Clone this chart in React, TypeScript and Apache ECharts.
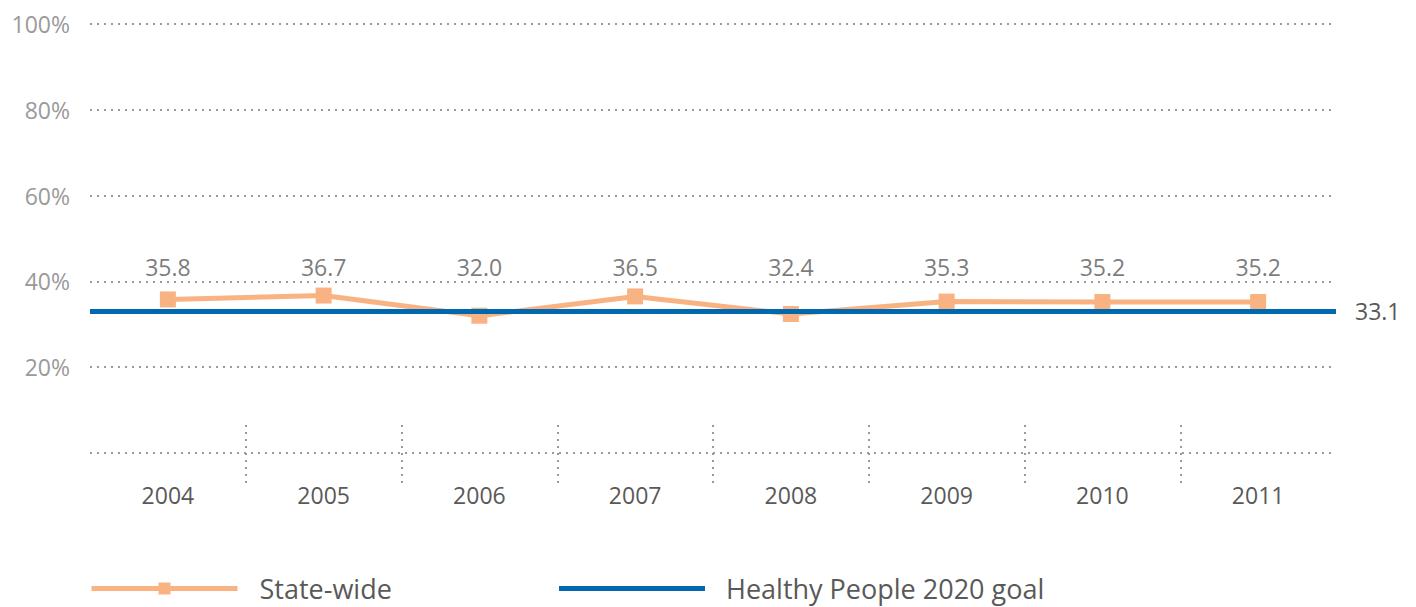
import React, { useEffect, useRef } from "react";
import * as echarts from "echarts";

// Years shown on the category axis
const years = ["2004", "2005", "2006", "2007", "2008", "2009", "2010", "2011"];
// State-wide percentage per year
const stateWide = [35.8, 36.7, 32.0, 36.5, 32.4, 35.3, 35.2, 35.2];
// Healthy People 2020 target
const goalValue = 33.1;
// Y tick values (0 has no label)
const yTicks = [0, 20, 40, 60, 80, 100];
// Height on the value scale where the value captions sit
const captionLevel = 43.3;
// Year boundaries where the dotted separators are drawn
const separators = [1, 2, 3, 4, 5, 6, 7];

const FONT = "'Open Sans', 'Noto Sans', sans-serif";
const PEACH = "#F9B383";
const BLUE = "#0068AE";
const DOTS = [2, 5];

export default function App() {
  const ref = useRef<HTMLDivElement>(null);

  useEffect(() => {
    if (!ref.current) return;
    const chart = echarts.init(ref.current, null, { renderer: "svg" });
    chart.setOption({
      animation: false,
      textStyle: { fontFamily: FONT },
      grid: { left: 82, right: 72, top: 16, bottom: 154, containLabel: false },
      legend: [
        {
          data: ["State-wide"],
          left: 76,
          top: 562,
          itemWidth: 146,
          itemHeight: 15,
          lineStyle: { width: 5 },
          textStyle: { fontSize: 27, color: "#595959", fontFamily: FONT, padding: [0, 0, 0, 17] },
        },
        {
          data: [{ name: "Healthy People 2020 goal", icon: "rect" }],
          left: 546,
          top: 562,
          itemWidth: 146,
          itemHeight: 5,
          textStyle: { fontSize: 27, color: "#595959", fontFamily: FONT, padding: [0, 0, 0, 16] },
        },
      ],
      xAxis: [
        {
          type: "category",
          data: years,
          boundaryGap: true,
          axisLine: { show: false },
          axisTick: { show: false },
          axisLabel: { margin: 30, fontSize: 23, color: "#595959", fontFamily: FONT },
        },
        {
          type: "value",
          min: 0,
          max: years.length,
          position: "bottom",
          offset: 30,
          axisLine: { show: false },
          axisLabel: { show: false },
          splitLine: { show: false },
          axisTick: {
            show: true,
            inside: true,
            length: 58,
            customValues: separators,
            lineStyle: { color: "#999", width: 2, type: DOTS },
          },
        },
      ],
      yAxis: {
        type: "value",
        min: yTicks[0],
        max: yTicks[yTicks.length - 1],
        interval: 20,
        axisLine: { show: false },
        axisTick: { show: false },
        axisLabel: {
          margin: 20,
          fontSize: 23,
          color: "#9A9A9A",
          fontFamily: FONT,
          padding: [0, 0, 8, 0],
          formatter: (v: number) => (v === 0 ? "" : v + "%"),
        },
        splitLine: { lineStyle: { color: "#9A9A9A", width: 2, type: DOTS } },
      },
      series: [
        {
          name: "Healthy People 2020 goal",
          type: "line",
          xAxisIndex: 0,
          data: [],
          symbol: "none",
          color: BLUE,
          lineStyle: { color: BLUE, width: 5 },
          itemStyle: { color: BLUE },
          z: 2,
          markLine: {
            silent: true,
            symbol: "none",
            lineStyle: { color: BLUE, width: 5, type: "solid" },
            label: {
              position: "end",
              distance: 19,
              fontSize: 23,
              color: "#595959",
              fontFamily: FONT,
              formatter: () => goalValue.toFixed(1),
            },
            data: [{ yAxis: goalValue }],
          },
        },
        {
          name: "State-wide",
          type: "line",
          xAxisIndex: 0,
          data: stateWide,
          color: PEACH,
          symbol: "rect",
          symbolSize: 16,
          lineStyle: { color: PEACH, width: 5 },
          itemStyle: { color: PEACH },
          z: 3,
        },
        {
          name: "captions",
          type: "scatter",
          xAxisIndex: 0,
          symbolSize: 0,
          silent: true,
          data: stateWide.map((v, i) => [i, captionLevel, v]),
          label: {
            show: true,
            position: "inside",
            fontSize: 23,
            color: "#595959",
            fontFamily: FONT,
            formatter: (p: any) => Number(p.value[2]).toFixed(1),
          },
        },
      ],
    });
    return () => chart.dispose();
  }, []);

  return <div ref={ref} style={{ width: 1400, height: 599 }} />;
}
